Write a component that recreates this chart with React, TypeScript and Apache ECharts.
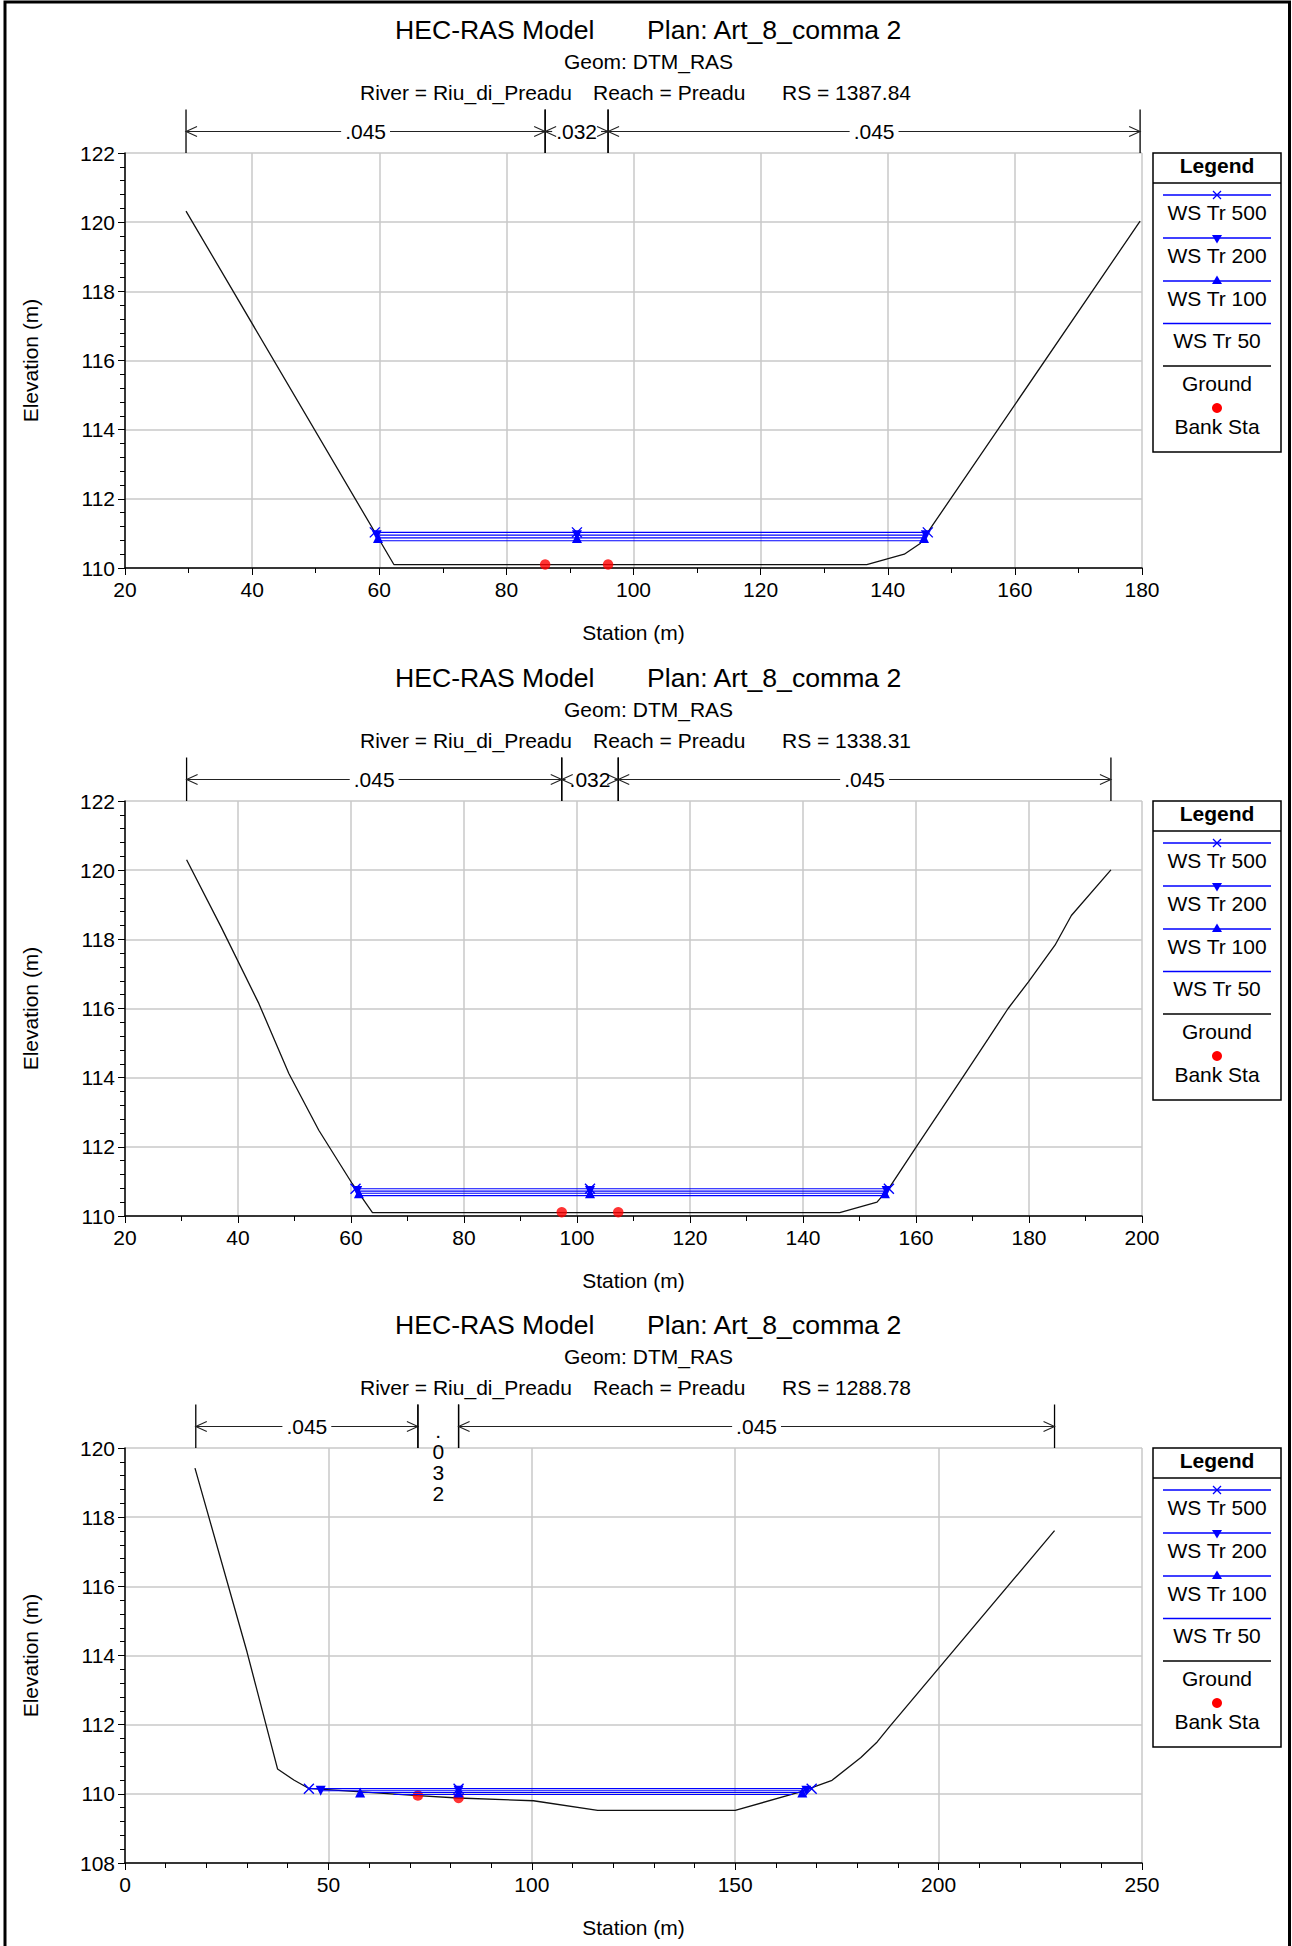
import React, { useEffect, useRef } from "react";
import * as echarts from "echarts";

const FONT = '"Liberation Sans", Arial, Helvetica, sans-serif';
const BLUE = "#0000ff";

// ---------- texts ----------
const modelTitle = "HEC-RAS Model";
const planTitle = "Plan: Art_8_comma 2";
const geomTitle = "Geom: DTM_RAS";
const riverLabel = "River = Riu_di_Preadu";
const reachLabel = "Reach = Preadu";
const rsLabels = ["RS = 1387.84", "RS = 1338.31", "RS = 1288.78"];
const xAxisName = "Station (m)";
const yAxisName = "Elevation (m)";
const legendTitle = "Legend";
const wsNames = ["WS Tr 500", "WS Tr 200", "WS Tr 100", "WS Tr 50"];
const groundName = "Ground";
const bankName = "Bank Sta";

// ---------- axes ----------
const xMin = [20, 20, 0];
const xMax = [180, 200, 250];
const xStep = [20, 20, 50];
const xMinorSplit = [2, 2, 5];
const yMin = [110, 110, 108];
const yMax = [122, 122, 120];
const yStep = [2, 2, 2];

// ---------- RS 1387.84 ----------
const ground1 = [
  [29.6, 120.32], [62.3, 110.1], [136.7, 110.1], [142.6, 110.4], [145.1, 110.71], [179.7, 120.03],
];
const bank1 = [[86.1, 110.1], [96.0, 110.1]];
const nBreaks1 = [29.6, 86.1, 96.0, 179.7];
const nValues1 = [".045", ".032", ".045"];
const ws500_1 = [[59.3, 111.03], [91.1, 111.03], [146.3, 111.03]];
const ws200_1 = [[59.6, 110.95], [91.1, 110.95], [146.0, 110.95]];
const ws100_1 = [[59.8, 110.87], [91.1, 110.87], [145.7, 110.87]];
const ws50_1 = [[60.1, 110.79], [91.1, 110.79], [145.4, 110.79]];

// ---------- RS 1338.31 ----------
const ground2 = [
  [30.9, 120.3], [37.0, 118.36], [43.7, 116.14], [49.0, 114.12], [54.3, 112.48], [60.2, 110.94],
  [63.8, 110.1], [146.5, 110.1], [153.1, 110.4], [155.2, 110.8], [159.9, 111.96], [164.6, 113.11],
  [168.7, 114.12], [172.8, 115.13], [176.3, 116.0], [179.9, 116.77], [184.6, 117.83], [187.5, 118.69],
  [194.5, 120.01],
];
const bank2 = [[97.3, 110.11], [107.3, 110.11]];
const nBreaks2 = [30.9, 97.3, 107.3, 194.5];
const nValues2 = [".045", ".032", ".045"];
const ws500_2 = [[60.8, 110.79], [102.3, 110.79], [155.2, 110.79]];
const ws200_2 = [[61.1, 110.72], [102.3, 110.72], [154.8, 110.72]];
const ws100_2 = [[61.4, 110.66], [102.3, 110.66], [154.5, 110.66]];
const ws50_2 = [[61.7, 110.59], [102.3, 110.59], [154.1, 110.59]];

// ---------- RS 1288.78 ----------
const ground3 = [
  [17.2, 119.42], [30.0, 114.1], [37.5, 110.72], [41.5, 110.4], [45.1, 110.16], [71.9, 109.95],
  [81.9, 109.88], [100.4, 109.8], [116.2, 109.52], [150.0, 109.52], [165.8, 110.05], [173.8, 110.39],
  [180.9, 111.05], [184.9, 111.5], [188.0, 111.95], [228.5, 117.61],
];
const bank3 = [[72.0, 109.95], [82.0, 109.88]];
const nBreaks3 = [17.4, 72.0, 82.0, 228.5];
const nValues3 = [".045", ".032", ".045"];
const ws500_3 = [[45.2, 110.15], [82.0, 110.15], [168.8, 110.15]];
const ws200_3 = [[48.1, 110.09], [82.0, 110.09], [167.5, 110.09]];
const ws100_3 = [[57.8, 110.04], [82.0, 110.04], [166.5, 110.04]];
const ws50_3 = [[66.0, 109.98], [82.0, 109.98], [164.0, 109.98]];

const grounds = [ground1, ground2, ground3];
const banks = [bank1, bank2, bank3];
const nBreaks = [nBreaks1, nBreaks2, nBreaks3];
const nValues = [nValues1, nValues2, nValues3];
const wsSets = [
  [ws500_1, ws200_1, ws100_1, ws50_1],
  [ws500_2, ws200_2, ws100_2, ws50_2],
  [ws500_3, ws200_3, ws100_3, ws50_3],
];

// ---------- layout ----------
const TOPS = [153, 801, 1448];
const GRID_LEFT = 125;
const GRID_W = 1017;
const GRID_H = 415;
const CROSS = "path://M0,0L10,10M10,0L0,10";
const wsSymbols = [CROSS, "triangle", "triangle", "none"];
const wsRotate = [0, 180, 0, 0];
const wsSizes = [10, 10, 10, 0];

let measureCtx: CanvasRenderingContext2D | null = null;
function measure(text: string, size: number): number {
  if (!measureCtx) measureCtx = document.createElement("canvas").getContext("2d");
  if (!measureCtx) return text.length * size * 0.55;
  measureCtx.font = `${size}px ${FONT}`;
  return measureCtx.measureText(text).width;
}

function makeNbarRender(labels: string[], yTop: number) {
  return (params: any, api: any) => {
    const a = api.coord([api.value(0), yTop]);
    const b = api.coord([api.value(1), yTop]);
    const x0 = a[0];
    const x1 = b[0];
    const top = a[1];
    const ay = top - 21.5;
    const vt = top - 43.5;
    const label = labels[params.dataIndex];
    const tw = measure(label, 21);
    const w = x1 - x0;
    const cx = (x0 + x1) / 2;
    const vs = { stroke: "#000", lineWidth: 1.3 };
    const hs = { stroke: "#222", lineWidth: 1.1, fill: "none" };
    const children: any[] = [
      { type: "line", shape: { x1: x0, y1: vt, x2: x0, y2: top }, style: vs },
      { type: "line", shape: { x1: x1, y1: vt, x2: x1, y2: top }, style: vs },
    ];
    if (w >= tw + 4) {
      const gl = cx - tw / 2 - 4;
      const gr = cx + tw / 2 + 4;
      if (gl > x0) children.push({ type: "line", shape: { x1: x0, y1: ay, x2: gl, y2: ay }, style: hs });
      if (gr < x1) children.push({ type: "line", shape: { x1: gr, y1: ay, x2: x1, y2: ay }, style: hs });
      children.push({
        type: "polyline",
        shape: { points: [[x0 + 11, ay - 5], [x0, ay], [x0 + 11, ay + 5]] },
        style: hs,
      });
      children.push({
        type: "polyline",
        shape: { points: [[x1 - 11, ay - 5], [x1, ay], [x1 - 11, ay + 5]] },
        style: hs,
      });
      children.push({
        type: "text",
        x: cx,
        y: ay,
        style: { text: label, fontSize: 21, fontFamily: FONT, fill: "#000", align: "center", verticalAlign: "middle" },
      });
    } else {
      children.push({
        type: "text",
        x: cx,
        y: ay - 7,
        style: {
          text: label.split("").join("\n"),
          fontSize: 21,
          lineHeight: 21,
          fontFamily: FONT,
          fill: "#000",
          align: "center",
          verticalAlign: "top",
        },
      });
    }
    return { type: "group", children };
  };
}

function textEl(x: number, y: number, text: string, size: number, align: string, bold = false): any {
  return {
    type: "text",
    x,
    y,
    silent: true,
    style: {
      text,
      fontSize: size,
      fontFamily: FONT,
      fontWeight: bold ? "bold" : "normal",
      fill: "#000",
      align,
      verticalAlign: "middle",
    },
  };
}

function headerGraphics(top: number, i: number): any[] {
  return [
    textEl(395, top - 123, modelTitle, 26.6, "left"),
    textEl(647, top - 123, planTitle, 26.6, "left"),
    textEl(648.5, top - 92, geomTitle, 21, "center"),
    textEl(360, top - 60.5, riverLabel, 21, "left"),
    textEl(593, top - 60.5, reachLabel, 21, "left"),
    textEl(782, top - 60.5, rsLabels[i], 21, "left"),
  ];
}

function legendGraphics(top: number): any[] {
  const L = 1153;
  const R = 1281;
  const cx = 1217;
  const lx0 = 1163;
  const lx1 = 1271;
  const els: any[] = [];
  els.push({
    type: "rect",
    silent: true,
    shape: { x: L, y: top, width: R - L, height: 299 },
    style: { fill: "#fff", stroke: "#000", lineWidth: 1.5 },
  });
  els.push(textEl(cx, top + 12.5, legendTitle, 21, "center", true));
  els.push({ type: "line", silent: true, shape: { x1: L, y1: top + 30, x2: R, y2: top + 30 }, style: { stroke: "#000", lineWidth: 1.5 } });
  const lineYs = [42, 85, 128, 170.5, 213];
  const textYs = [59.5, 102.5, 145, 187.5, 230.5];
  const names = [...wsNames, groundName];
  for (let k = 0; k < 5; k++) {
    const y = top + lineYs[k];
    els.push({
      type: "line",
      silent: true,
      shape: { x1: lx0, y1: y, x2: lx1, y2: y },
      style: { stroke: k < 4 ? BLUE : "#000", lineWidth: 1.3 },
    });
    els.push(textEl(cx, top + textYs[k], names[k], 21, "center"));
  }
  const y0 = top + lineYs[0];
  els.push({ type: "line", silent: true, shape: { x1: cx - 4, y1: y0 - 4, x2: cx + 4, y2: y0 + 4 }, style: { stroke: BLUE, lineWidth: 1.3 } });
  els.push({ type: "line", silent: true, shape: { x1: cx + 4, y1: y0 - 4, x2: cx - 4, y2: y0 + 4 }, style: { stroke: BLUE, lineWidth: 1.3 } });
  const y1 = top + lineYs[1];
  els.push({ type: "polygon", silent: true, shape: { points: [[cx - 5, y1 - 3], [cx + 5, y1 - 3], [cx, y1 + 5.5]] }, style: { fill: BLUE } });
  const y2 = top + lineYs[2];
  els.push({ type: "polygon", silent: true, shape: { points: [[cx - 5, y2 + 3], [cx + 5, y2 + 3], [cx, y2 - 5.5]] }, style: { fill: BLUE } });
  els.push({ type: "circle", silent: true, shape: { cx, cy: top + 255, r: 5 }, style: { fill: "#ff0000" } });
  els.push(textEl(cx, top + 273, bankName, 21, "center"));
  return els;
}

function buildOption(): any {
  const grid: any[] = [];
  const xAxis: any[] = [];
  const yAxis: any[] = [];
  const series: any[] = [];
  const graphics: any[] = [];

  graphics.push({
    type: "rect",
    silent: true,
    shape: { x: 5, y: 2, width: 1284.5, height: 2000 },
    style: { fill: "none", stroke: "#000", lineWidth: 3 },
  });

  for (let i = 0; i < 3; i++) {
    const top = TOPS[i];
    grid.push({ left: GRID_LEFT, top, width: GRID_W, height: GRID_H, containLabel: false });
    const label = { fontSize: 21, fontFamily: FONT, color: "#000" };
    xAxis.push({
      type: "value",
      gridIndex: i,
      min: xMin[i],
      max: xMax[i],
      interval: xStep[i],
      axisLine: { show: true, onZero: false, lineStyle: { color: "#000", width: 1.5 } },
      axisTick: { show: true, length: 7, lineStyle: { color: "#000", width: 1 } },
      minorTick: { show: true, splitNumber: xMinorSplit[i], length: 5, lineStyle: { color: "#000", width: 1 } },
      splitLine: { show: true, lineStyle: { color: "#c8c8c8", width: 1.5 } },
      axisLabel: { ...label, margin: 11 },
      name: xAxisName,
      nameLocation: "middle",
      nameGap: 54,
      nameTextStyle: label,
    });
    yAxis.push({
      type: "value",
      gridIndex: i,
      min: yMin[i],
      max: yMax[i],
      interval: yStep[i],
      axisLine: { show: true, onZero: false, lineStyle: { color: "#000", width: 1.5 } },
      axisTick: { show: true, length: 7, lineStyle: { color: "#000", width: 1 } },
      minorTick: { show: true, splitNumber: 5, length: 5, lineStyle: { color: "#000", width: 1 } },
      splitLine: { show: true, lineStyle: { color: "#c8c8c8", width: 1.5 } },
      axisLabel: { ...label, margin: 10 },
      name: yAxisName,
      nameLocation: "middle",
      nameGap: 84,
      nameTextStyle: label,
    });

    series.push({
      type: "line",
      name: groundName,
      xAxisIndex: i,
      yAxisIndex: i,
      data: grounds[i],
      symbol: "none",
      silent: true,
      lineStyle: { color: "#111", width: 1.3 },
      z: 3,
    });
    series.push({
      type: "scatter",
      name: bankName,
      xAxisIndex: i,
      yAxisIndex: i,
      data: banks[i],
      symbol: "circle",
      symbolSize: 10.5,
      silent: true,
      itemStyle: { color: "#ff0000" },
      z: 4,
    });
    for (let k = 3; k >= 0; k--) {
      series.push({
        type: "line",
        name: wsNames[k],
        xAxisIndex: i,
        yAxisIndex: i,
        data: wsSets[i][k],
        symbol: wsSymbols[k],
        symbolRotate: wsRotate[k],
        symbolSize: wsSizes[k],
        showSymbol: k < 3,
        silent: true,
        lineStyle: { color: BLUE, width: 1.1 },
        itemStyle: k === 0 ? { color: BLUE, borderColor: BLUE, borderWidth: 1.4 } : { color: BLUE, borderWidth: 0 },
        z: 5,
      });
    }
    const nb = nBreaks[i];
    const segs = nValues[i].map((_, j) => [nb[j], nb[j + 1]]);
    series.push({
      type: "custom",
      name: "n",
      xAxisIndex: i,
      yAxisIndex: i,
      data: segs,
      clip: false,
      silent: true,
      renderItem: makeNbarRender(nValues[i], yMax[i]),
      z: 6,
    });

    graphics.push(...headerGraphics(top, i));
    graphics.push(...legendGraphics(top));
  }

  return {
    animation: false,
    backgroundColor: "#ffffff",
    textStyle: { fontFamily: FONT },
    grid,
    xAxis,
    yAxis,
    series,
    graphic: { elements: graphics },
  };
}

export default function App() {
  const ref = useRef<HTMLDivElement>(null);
  useEffect(() => {
    if (!ref.current) return;
    const chart = echarts.init(ref.current, undefined, { renderer: "svg" });
    chart.setOption(buildOption());
    return () => chart.dispose();
  }, []);
  return (
    <div
      ref={ref}
      style={{ position: "absolute", left: 0, top: 0, width: 1292, height: 1946, background: "#fff" }}
    />
  );
}
